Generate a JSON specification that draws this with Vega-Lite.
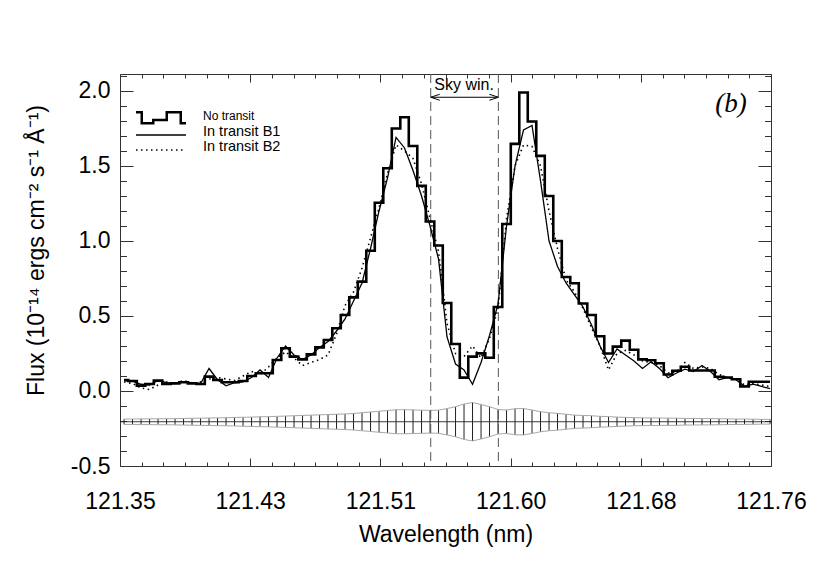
{
  "$schema": "https://vega.github.io/schema/vega-lite/v6.json",
  "width": 651,
  "height": 392,
  "autosize": {"type": "none"},
  "padding": {"left": 120, "top": 74, "right": 59, "bottom": 115},
  "background": "white",
  "config": {
    "view": {"stroke": "#333", "strokeWidth": 1},
    "font": "Liberation Sans",
    "axis": {"grid": false, "domain": false}
  },
  "datasets": {
    "spec": [
      {"lam":121.35255,"nt":0.073,"b1":0.07,"b2":0.06,"elo":-0.223,"ehi":-0.187},
      {"lam":121.3579,"nt":0.067,"b1":0.065,"b2":0.05,"elo":-0.223,"ehi":-0.187},
      {"lam":121.36326,"nt":0.036,"b1":0.045,"b2":0.02,"elo":-0.224,"ehi":-0.186},
      {"lam":121.36861,"nt":0.047,"b1":0.04,"b2":0.01,"elo":-0.224,"ehi":-0.186},
      {"lam":121.37396,"nt":0.069,"b1":0.07,"b2":0.04,"elo":-0.225,"ehi":-0.185},
      {"lam":121.37932,"nt":0.047,"b1":0.055,"b2":0.06,"elo":-0.225,"ehi":-0.185},
      {"lam":121.38467,"nt":0.051,"b1":0.05,"b2":0.05,"elo":-0.226,"ehi":-0.184},
      {"lam":121.39002,"nt":0.058,"b1":0.06,"b2":0.07,"elo":-0.227,"ehi":-0.183},
      {"lam":121.39537,"nt":0.051,"b1":0.055,"b2":0.05,"elo":-0.228,"ehi":-0.182},
      {"lam":121.40073,"nt":0.047,"b1":0.05,"b2":0.06,"elo":-0.229,"ehi":-0.181},
      {"lam":121.40608,"nt":0.096,"b1":0.15,"b2":0.08,"elo":-0.23,"ehi":-0.18},
      {"lam":121.41143,"nt":0.073,"b1":0.075,"b2":0.09,"elo":-0.231,"ehi":-0.179},
      {"lam":121.41679,"nt":0.058,"b1":0.035,"b2":0.08,"elo":-0.232,"ehi":-0.178},
      {"lam":121.42214,"nt":0.058,"b1":0.055,"b2":0.07,"elo":-0.233,"ehi":-0.177},
      {"lam":121.42749,"nt":0.067,"b1":0.06,"b2":0.1,"elo":-0.235,"ehi":-0.175},
      {"lam":121.43285,"nt":0.1,"b1":0.09,"b2":0.13,"elo":-0.236,"ehi":-0.174},
      {"lam":121.4382,"nt":0.118,"b1":0.14,"b2":0.11,"elo":-0.238,"ehi":-0.172},
      {"lam":121.44355,"nt":0.118,"b1":0.09,"b2":0.16,"elo":-0.239,"ehi":-0.171},
      {"lam":121.4489,"nt":0.207,"b1":0.22,"b2":0.22,"elo":-0.241,"ehi":-0.169},
      {"lam":121.45426,"nt":0.285,"b1":0.3,"b2":0.26,"elo":-0.243,"ehi":-0.167},
      {"lam":121.45961,"nt":0.229,"b1":0.24,"b2":0.22,"elo":-0.245,"ehi":-0.165},
      {"lam":121.46496,"nt":0.211,"b1":0.21,"b2":0.17,"elo":-0.247,"ehi":-0.163},
      {"lam":121.47032,"nt":0.244,"b1":0.24,"b2":0.19,"elo":-0.249,"ehi":-0.161},
      {"lam":121.47567,"nt":0.291,"b1":0.29,"b2":0.21,"elo":-0.251,"ehi":-0.159},
      {"lam":121.48102,"nt":0.34,"b1":0.33,"b2":0.24,"elo":-0.253,"ehi":-0.157},
      {"lam":121.48638,"nt":0.418,"b1":0.4,"b2":0.38,"elo":-0.255,"ehi":-0.155},
      {"lam":121.49173,"nt":0.507,"b1":0.48,"b2":0.57,"elo":-0.257,"ehi":-0.153},
      {"lam":121.49708,"nt":0.624,"b1":0.6,"b2":0.66,"elo":-0.26,"ehi":-0.15},
      {"lam":121.50243,"nt":0.729,"b1":0.72,"b2":0.82,"elo":-0.265,"ehi":-0.145},
      {"lam":121.50779,"nt":0.935,"b1":0.95,"b2":1.02,"elo":-0.27,"ehi":-0.14},
      {"lam":121.51314,"nt":1.255,"b1":1.2,"b2":1.22,"elo":-0.275,"ehi":-0.135},
      {"lam":121.51849,"nt":1.485,"b1":1.42,"b2":1.45,"elo":-0.28,"ehi":-0.13},
      {"lam":121.52385,"nt":1.75,"b1":1.69,"b2":1.64,"elo":-0.285,"ehi":-0.125},
      {"lam":121.5292,"nt":1.825,"b1":1.62,"b2":1.6,"elo":-0.285,"ehi":-0.125},
      {"lam":121.53455,"nt":1.633,"b1":1.47,"b2":1.55,"elo":-0.284,"ehi":-0.126},
      {"lam":121.53991,"nt":1.367,"b1":1.3,"b2":1.38,"elo":-0.282,"ehi":-0.128},
      {"lam":121.54526,"nt":1.13,"b1":1.1,"b2":1.15,"elo":-0.281,"ehi":-0.129},
      {"lam":121.55061,"nt":0.97,"b1":0.88,"b2":0.93,"elo":-0.282,"ehi":-0.128},
      {"lam":121.55596,"nt":0.587,"b1":0.36,"b2":0.45,"elo":-0.293,"ehi":-0.117},
      {"lam":121.56132,"nt":0.313,"b1":0.18,"b2":0.25,"elo":-0.305,"ehi":-0.105},
      {"lam":121.56667,"nt":0.089,"b1":0.14,"b2":0.23,"elo":-0.323,"ehi":-0.087},
      {"lam":121.57202,"nt":0.229,"b1":0.045,"b2":0.3,"elo":-0.333,"ehi":-0.077},
      {"lam":121.57738,"nt":0.251,"b1":0.19,"b2":0.22,"elo":-0.32,"ehi":-0.09},
      {"lam":121.58273,"nt":0.222,"b1":0.37,"b2":0.35,"elo":-0.305,"ehi":-0.105},
      {"lam":121.58808,"nt":0.56,"b1":0.58,"b2":0.55,"elo":-0.287,"ehi":-0.123},
      {"lam":121.59344,"nt":1.113,"b1":1.1,"b2":1.15,"elo":-0.283,"ehi":-0.127},
      {"lam":121.59879,"nt":1.647,"b1":1.5,"b2":1.5,"elo":-0.292,"ehi":-0.118},
      {"lam":121.60414,"nt":1.99,"b1":1.74,"b2":1.64,"elo":-0.293,"ehi":-0.117},
      {"lam":121.60949,"nt":1.796,"b1":1.77,"b2":1.63,"elo":-0.283,"ehi":-0.127},
      {"lam":121.61485,"nt":1.567,"b1":1.4,"b2":1.5,"elo":-0.272,"ehi":-0.138},
      {"lam":121.6202,"nt":1.3,"b1":1.0,"b2":1.2,"elo":-0.265,"ehi":-0.145},
      {"lam":121.62555,"nt":1.0,"b1":0.83,"b2":0.95,"elo":-0.261,"ehi":-0.149},
      {"lam":121.63091,"nt":0.76,"b1":0.72,"b2":0.74,"elo":-0.255,"ehi":-0.155},
      {"lam":121.63626,"nt":0.718,"b1":0.64,"b2":0.66,"elo":-0.249,"ehi":-0.161},
      {"lam":121.64161,"nt":0.583,"b1":0.56,"b2":0.55,"elo":-0.247,"ehi":-0.163},
      {"lam":121.64697,"nt":0.507,"b1":0.44,"b2":0.42,"elo":-0.245,"ehi":-0.165},
      {"lam":121.65232,"nt":0.365,"b1":0.3,"b2":0.3,"elo":-0.241,"ehi":-0.169},
      {"lam":121.65767,"nt":0.25,"b1":0.19,"b2":0.14,"elo":-0.239,"ehi":-0.171},
      {"lam":121.66302,"nt":0.296,"b1":0.28,"b2":0.25,"elo":-0.236,"ehi":-0.174},
      {"lam":121.66838,"nt":0.336,"b1":0.24,"b2":0.27,"elo":-0.234,"ehi":-0.176},
      {"lam":121.67373,"nt":0.275,"b1":0.2,"b2":0.24,"elo":-0.232,"ehi":-0.178},
      {"lam":121.67908,"nt":0.211,"b1":0.15,"b2":0.2,"elo":-0.231,"ehi":-0.179},
      {"lam":121.68444,"nt":0.205,"b1":0.195,"b2":0.19,"elo":-0.23,"ehi":-0.18},
      {"lam":121.68979,"nt":0.185,"b1":0.15,"b2":0.17,"elo":-0.23,"ehi":-0.18},
      {"lam":121.69514,"nt":0.11,"b1":0.088,"b2":0.12,"elo":-0.229,"ehi":-0.181},
      {"lam":121.7005,"nt":0.135,"b1":0.12,"b2":0.13,"elo":-0.229,"ehi":-0.181},
      {"lam":121.70585,"nt":0.162,"b1":0.145,"b2":0.19,"elo":-0.227,"ehi":-0.183},
      {"lam":121.7112,"nt":0.137,"b1":0.13,"b2":0.15,"elo":-0.227,"ehi":-0.183},
      {"lam":121.71655,"nt":0.137,"b1":0.17,"b2":0.16,"elo":-0.226,"ehi":-0.184},
      {"lam":121.72191,"nt":0.137,"b1":0.13,"b2":0.15,"elo":-0.226,"ehi":-0.184},
      {"lam":121.72726,"nt":0.095,"b1":0.075,"b2":0.11,"elo":-0.225,"ehi":-0.185},
      {"lam":121.73261,"nt":0.09,"b1":0.09,"b2":0.09,"elo":-0.224,"ehi":-0.186},
      {"lam":121.73797,"nt":0.078,"b1":0.075,"b2":0.08,"elo":-0.223,"ehi":-0.187},
      {"lam":121.74332,"nt":0.03,"b1":0.03,"b2":0.04,"elo":-0.223,"ehi":-0.187},
      {"lam":121.74867,"nt":0.062,"b1":0.045,"b2":0.05,"elo":-0.222,"ehi":-0.188},
      {"lam":121.75403,"nt":0.062,"b1":0.03,"b2":0.04,"elo":-0.221,"ehi":-0.189},
      {"lam":121.75938,"nt":0.062,"b1":0.015,"b2":0.03,"elo":-0.221,"ehi":-0.189}
    ],
    "sky": [
      {"edge": 121.5457, "side": "l"},
      {"edge": 121.5883, "side": "r"}
    ],
    "notes": [{"note": "Sky win."}],
    "panel": [{"label": "(b)"}]
  },
  "data": {"name": "spec"},
  "layer": [
    {
      "layer": [
        {
          "mark": {"type": "rule", "stroke": "#222", "strokeWidth": 1},
          "encoding": {
            "x": {"field": "lam", "type": "quantitative", "scale": {"domain": [121.35, 121.76], "nice": false, "zero": false}, "axis": null},
            "y": {"field": "elo", "type": "quantitative", "scale": {"domain": [-0.5, 2.113], "nice": false, "zero": false}, "axis": null},
            "y2": {"field": "ehi"}
          }
        },
        {
          "mark": {"type": "line", "stroke": "#a8a8a8", "strokeWidth": 1},
          "encoding": {
            "x": {"field": "lam", "type": "quantitative", "scale": {"domain": [121.35, 121.76], "nice": false, "zero": false}, "axis": null},
            "y": {"field": "elo", "type": "quantitative", "scale": {"domain": [-0.5, 2.113], "nice": false, "zero": false}, "axis": null}
          }
        },
        {
          "mark": {"type": "line", "stroke": "#a8a8a8", "strokeWidth": 1},
          "encoding": {
            "x": {"field": "lam", "type": "quantitative", "scale": {"domain": [121.35, 121.76], "nice": false, "zero": false}, "axis": null},
            "y": {"field": "ehi", "type": "quantitative", "scale": {"domain": [-0.5, 2.113], "nice": false, "zero": false}, "axis": null}
          }
        },
        {
          "data": {"name": "panel"},
          "mark": {"type": "rule", "stroke": "#222", "strokeWidth": 0.9},
          "encoding": {
            "y": {"datum": -0.205, "type": "quantitative", "scale": {"domain": [-0.5, 2.113], "nice": false, "zero": false}, "axis": null}
          }
        },
        {
          "data": {"name": "sky"},
          "mark": {"type": "rule", "stroke": "#555", "strokeWidth": 1, "strokeDash": [9, 5]},
          "encoding": {
            "x": {"field": "edge", "type": "quantitative", "scale": {"domain": [121.35, 121.76], "nice": false, "zero": false}, "axis": null}
          }
        },
        {
          "mark": {"type": "line", "interpolate": "step", "strokeWidth": 2.6, "strokeJoin": "miter", "color": "black"},
          "encoding": {
            "x": {"field": "lam", "type": "quantitative", "scale": {"domain": [121.35, 121.76], "nice": false, "zero": false}, "axis": null},
            "y": {"field": "nt", "type": "quantitative", "scale": {"domain": [-0.5, 2.113], "nice": false, "zero": false}, "axis": null}
          }
        },
        {
          "mark": {"type": "line", "strokeWidth": 1.3, "color": "black"},
          "encoding": {
            "x": {"field": "lam", "type": "quantitative", "scale": {"domain": [121.35, 121.76], "nice": false, "zero": false}, "axis": null},
            "y": {"field": "b1", "type": "quantitative", "scale": {"domain": [-0.5, 2.113], "nice": false, "zero": false}, "axis": null}
          }
        },
        {
          "mark": {"type": "line", "strokeWidth": 1.6, "strokeDash": [1.5, 3.5], "color": "black"},
          "encoding": {
            "x": {"field": "lam", "type": "quantitative", "scale": {"domain": [121.35, 121.76], "nice": false, "zero": false}, "axis": null},
            "y": {"field": "b2", "type": "quantitative", "scale": {"domain": [-0.5, 2.113], "nice": false, "zero": false}, "axis": null}
          }
        },
        {
          "data": {"name": "notes"},
          "mark": {"type": "rule", "stroke": "black", "strokeWidth": 1},
          "encoding": {
            "x": {"datum": 121.5457, "type": "quantitative", "scale": {"domain": [121.35, 121.76], "nice": false, "zero": false}, "axis": null},
            "x2": {"datum": 121.5883},
            "y": {"datum": 1.958, "type": "quantitative", "scale": {"domain": [-0.5, 2.113], "nice": false, "zero": false}, "axis": null}
          }
        },
        {
          "data": {"name": "sky"},
          "mark": {"type": "point", "filled": false, "color": "black", "strokeWidth": 1, "size": 36, "opacity": 1},
          "encoding": {
            "x": {"field": "edge", "type": "quantitative", "scale": {"domain": [121.35, 121.76], "nice": false, "zero": false}, "axis": null},
            "y": {"datum": 1.958, "type": "quantitative", "scale": {"domain": [-0.5, 2.113], "nice": false, "zero": false}, "axis": null},
            "shape": {"field": "side", "type": "nominal", "scale": {"domain": ["l", "r"], "range": ["M3,-1L0,0L3,1", "M-3,-1L0,0L-3,1"]}, "legend": null}
          }
        },
        {
          "data": {"name": "notes"},
          "mark": {"type": "text", "font": "Liberation Sans", "fontSize": 16, "align": "center", "baseline": "alphabetic", "color": "black"},
          "encoding": {
            "x": {"datum": 121.5667, "type": "quantitative", "scale": {"domain": [121.35, 121.76], "nice": false, "zero": false}, "axis": null},
            "y": {"datum": 2.007, "type": "quantitative", "scale": {"domain": [-0.5, 2.113], "nice": false, "zero": false}, "axis": null},
            "text": {"field": "note"}
          }
        },
        {
          "data": {"name": "panel"},
          "mark": {"type": "text", "font": "Liberation Serif", "fontStyle": "italic", "fontSize": 27, "align": "center", "baseline": "middle", "color": "black"},
          "encoding": {
            "x": {"datum": 121.7348, "type": "quantitative", "scale": {"domain": [121.35, 121.76], "nice": false, "zero": false}, "axis": null},
            "y": {"datum": 1.913, "type": "quantitative", "scale": {"domain": [-0.5, 2.113], "nice": false, "zero": false}, "axis": null},
            "text": {"field": "label"}
          }
        },
        {
          "data": {"name": "panel"},
          "mark": {"type": "point", "shape": "M-1,-0.22H-0.77V0.22H-0.31V0.09H0.23V-0.22H0.79V0.22H1", "size": 2500, "filled": false, "color": "black", "strokeWidth": 2.5, "opacity": 1},
          "encoding": {
            "x": {"datum": 121.37582, "type": "quantitative", "scale": {"domain": [121.35, 121.76], "nice": false, "zero": false}, "axis": null},
            "y": {"datum": 1.8213, "type": "quantitative", "scale": {"domain": [-0.5, 2.113], "nice": false, "zero": false}, "axis": null}
          }
        },
        {
          "data": {"name": "panel"},
          "mark": {"type": "point", "shape": "M-1,0H1", "size": 2500, "filled": false, "color": "black", "strokeWidth": 1.5, "opacity": 1},
          "encoding": {
            "x": {"datum": 121.37582, "type": "quantitative", "scale": {"domain": [121.35, 121.76], "nice": false, "zero": false}, "axis": null},
            "y": {"datum": 1.7067, "type": "quantitative", "scale": {"domain": [-0.5, 2.113], "nice": false, "zero": false}, "axis": null}
          }
        },
        {
          "data": {"name": "panel"},
          "mark": {"type": "point", "shape": "M-1,0H1", "size": 2500, "filled": false, "color": "black", "strokeWidth": 1.6, "strokeDash": [1.5, 3.5], "opacity": 1},
          "encoding": {
            "x": {"datum": 121.37582, "type": "quantitative", "scale": {"domain": [121.35, 121.76], "nice": false, "zero": false}, "axis": null},
            "y": {"datum": 1.6067, "type": "quantitative", "scale": {"domain": [-0.5, 2.113], "nice": false, "zero": false}, "axis": null}
          }
        },
        {
          "data": {"name": "panel"},
          "mark": {"type": "text", "font": "Liberation Sans", "fontSize": 12, "align": "left", "baseline": "alphabetic", "color": "black"},
          "encoding": {
            "x": {"datum": 121.40227, "type": "quantitative", "scale": {"domain": [121.35, 121.76], "nice": false, "zero": false}, "axis": null},
            "y": {"datum": 1.8067, "type": "quantitative", "scale": {"domain": [-0.5, 2.113], "nice": false, "zero": false}, "axis": null},
            "text": {"value": "No transit"}
          }
        },
        {
          "data": {"name": "panel"},
          "mark": {"type": "text", "font": "Liberation Sans", "fontSize": 14.5, "align": "left", "baseline": "alphabetic", "color": "black"},
          "encoding": {
            "x": {"datum": 121.40227, "type": "quantitative", "scale": {"domain": [121.35, 121.76], "nice": false, "zero": false}, "axis": null},
            "y": {"datum": 1.702, "type": "quantitative", "scale": {"domain": [-0.5, 2.113], "nice": false, "zero": false}, "axis": null},
            "text": {"value": "In transit B1"}
          }
        },
        {
          "data": {"name": "panel"},
          "mark": {"type": "text", "font": "Liberation Sans", "fontSize": 14.5, "align": "left", "baseline": "alphabetic", "color": "black"},
          "encoding": {
            "x": {"datum": 121.40227, "type": "quantitative", "scale": {"domain": [121.35, 121.76], "nice": false, "zero": false}, "axis": null},
            "y": {"datum": 1.602, "type": "quantitative", "scale": {"domain": [-0.5, 2.113], "nice": false, "zero": false}, "axis": null},
            "text": {"value": "In transit B2"}
          }
        }
      ]
    },
    {
      "mark": {"type": "point", "opacity": 0},
      "encoding": {
        "x": {"field": "lam", "type": "quantitative", "scale": {"domain": [121.35, 121.76], "nice": false, "zero": false},
          "axis": {"orient": "bottom", "values": [121.35, 121.432, 121.514, 121.596, 121.678, 121.76], "format": ".2f",
            "ticks": false, "tickSize": 0, "domain": false, "grid": false, "labelFlush": false, "labelOverlap": false, "labelBound": false,
            "labelFont": "Liberation Sans", "labelFontSize": 23, "labelColor": "black", "labelPadding": 42, "labelBaseline": "alphabetic",
            "title": "Wavelength (nm)", "titleFont": "Liberation Sans", "titleFontSize": 23, "titleFontWeight": "normal", "titleColor": "black",
            "titleBaseline": "alphabetic", "titleY": 75}},
        "y": {"field": "nt", "type": "quantitative", "scale": {"domain": [-0.5, 2.113], "nice": false, "zero": false},
          "axis": {"orient": "left", "values": [-0.5, 0, 0.5, 1, 1.5, 2],
            "labelExpr": "replace(format(datum.value, '.1f'), '\u2212', '-')",
            "ticks": false, "tickSize": 0, "domain": false, "grid": false, "labelFlush": false, "labelOverlap": false, "labelBound": false,
            "labelFont": "Liberation Sans", "labelFontSize": 23, "labelColor": "black", "labelPadding": 10, "labelBaseline": "middle", "labelAlign": "right",
            "title": "Flux (10⁻¹⁴ ergs cm⁻² s⁻¹ Å⁻¹)", "titleFont": "Liberation Sans", "titleFontSize": 23, "titleFontWeight": "normal", "titleColor": "black",
            "titleAngle": -90, "titleBaseline": "alphabetic", "titleAlign": "center", "titleX": -77, "titleY": 176}}
      }
    },
    {
      "mark": {"type": "point", "opacity": 0},
      "encoding": {
        "x": {"field": "lam", "type": "quantitative", "scale": {"domain": [121.35, 121.76], "nice": false, "zero": false},
          "axis": {"orient": "bottom", "values": [121.35, 121.432, 121.514, 121.596, 121.678, 121.76], "labels": false, "ticks": true, "tickSize": -8, "tickColor": "#333", "tickWidth": 1, "domain": false, "grid": false, "title": null}},
        "y": {"field": "nt", "type": "quantitative", "scale": {"domain": [-0.5, 2.113], "nice": false, "zero": false},
          "axis": {"orient": "left", "values": [-0.5, 0, 0.5, 1, 1.5, 2], "labels": false, "ticks": true, "tickSize": -13, "tickColor": "#333", "tickWidth": 1, "domain": false, "grid": false, "title": null}}
      }
    },
    {
      "mark": {"type": "point", "opacity": 0},
      "encoding": {
        "x": {"field": "lam", "type": "quantitative", "scale": {"domain": [121.35, 121.76], "nice": false, "zero": false},
          "axis": {"orient": "bottom", "values": [121.36367, 121.37733, 121.391, 121.40467, 121.41833, 121.44567, 121.45933, 121.473, 121.48667, 121.50033, 121.52767, 121.54133, 121.555, 121.56867, 121.58233, 121.60967, 121.62333, 121.637, 121.65067, 121.66433, 121.69167, 121.70533, 121.719, 121.73267, 121.74633], "labels": false, "ticks": true, "tickSize": -4, "tickColor": "#333", "tickWidth": 1, "domain": false, "grid": false, "title": null}},
        "y": {"field": "nt", "type": "quantitative", "scale": {"domain": [-0.5, 2.113], "nice": false, "zero": false},
          "axis": {"orient": "left", "values": [-0.4, -0.3, -0.2, -0.1, 0.1, 0.2, 0.3, 0.4, 0.6, 0.7, 0.8, 0.9, 1.1, 1.2, 1.3, 1.4, 1.6, 1.7, 1.8, 1.9, 2.1], "labels": false, "ticks": true, "tickSize": -6.5, "tickColor": "#333", "tickWidth": 1, "domain": false, "grid": false, "title": null}}
      }
    },
    {
      "mark": {"type": "point", "opacity": 0},
      "encoding": {
        "x": {"field": "lam", "type": "quantitative", "scale": {"domain": [121.35, 121.76], "nice": false, "zero": false},
          "axis": {"orient": "top", "values": [121.35, 121.432, 121.514, 121.596, 121.678, 121.76], "labels": false, "ticks": true, "tickSize": -8, "tickColor": "#333", "tickWidth": 1, "domain": false, "grid": false, "title": null}},
        "y": {"field": "nt", "type": "quantitative", "scale": {"domain": [-0.5, 2.113], "nice": false, "zero": false},
          "axis": {"orient": "right", "values": [-0.5, 0, 0.5, 1, 1.5, 2], "labels": false, "ticks": true, "tickSize": -13, "tickColor": "#333", "tickWidth": 1, "domain": false, "grid": false, "title": null}}
      }
    },
    {
      "mark": {"type": "point", "opacity": 0},
      "encoding": {
        "x": {"field": "lam", "type": "quantitative", "scale": {"domain": [121.35, 121.76], "nice": false, "zero": false},
          "axis": {"orient": "top", "values": [121.36367, 121.37733, 121.391, 121.40467, 121.41833, 121.44567, 121.45933, 121.473, 121.48667, 121.50033, 121.52767, 121.54133, 121.555, 121.56867, 121.58233, 121.60967, 121.62333, 121.637, 121.65067, 121.66433, 121.69167, 121.70533, 121.719, 121.73267, 121.74633], "labels": false, "ticks": true, "tickSize": -4, "tickColor": "#333", "tickWidth": 1, "domain": false, "grid": false, "title": null}},
        "y": {"field": "nt", "type": "quantitative", "scale": {"domain": [-0.5, 2.113], "nice": false, "zero": false},
          "axis": {"orient": "right", "values": [-0.4, -0.3, -0.2, -0.1, 0.1, 0.2, 0.3, 0.4, 0.6, 0.7, 0.8, 0.9, 1.1, 1.2, 1.3, 1.4, 1.6, 1.7, 1.8, 1.9, 2.1], "labels": false, "ticks": true, "tickSize": -6.5, "tickColor": "#333", "tickWidth": 1, "domain": false, "grid": false, "title": null}}
      }
    }
  ],
  "resolve": {"axis": {"x": "independent", "y": "independent"}}
}
